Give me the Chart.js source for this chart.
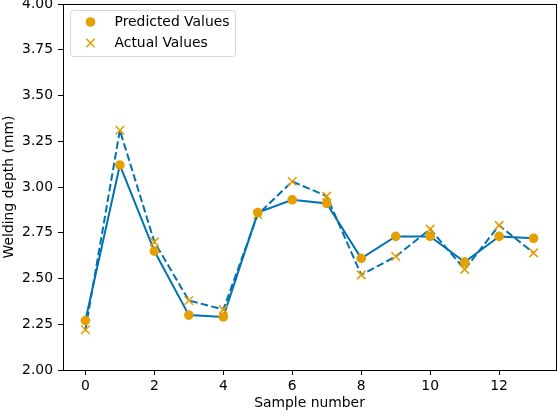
<!DOCTYPE html>
<html>
<head>
<meta charset="utf-8">
<script src="https://cdn.jsdelivr.net/npm/chart.js@4.4.1/dist/chart.umd.min.js"></script>
<style>
  html, body { margin: 0; padding: 0; background: #fff; }
  #wrap { width: 558px; height: 414px; }
</style>
</head>
<body>
<div id="wrap"><canvas id="chart" width="558" height="414"></canvas></div>
<script>
const sampleNumbers = [0, 1, 2, 3, 4, 5, 6, 7, 8, 9, 10, 11, 12, 13];
const predictedValues = [2.27, 3.12, 2.65, 2.30, 2.29, 2.86, 2.93, 2.91, 2.61, 2.73, 2.73, 2.59, 2.73, 2.72];
const actualValues = [2.22, 3.31, 2.70, 2.38, 2.33, 2.85, 3.03, 2.95, 2.52, 2.62, 2.77, 2.55, 2.79, 2.64];
const xTicks = [0, 2, 4, 6, 8, 10, 12];
const yTicks = [2.00, 2.25, 2.50, 2.75, 3.00, 3.25, 3.50, 3.75, 4.00];

const lineBlue = "#0072b2";
const markOrange = "#e69f00";
const font = "DejaVu Sans";
const fontSize = 13.9;

const toPoints = (vals) => sampleNumbers.map((x, i) => ({ x: x, y: vals[i] }));

// frame round the plot area, like matplotlib spines
const framePlugin = {
  id: "frame",
  afterDatasetsDraw(chart) {
    const a = chart.chartArea;
    const ctx = chart.ctx;
    ctx.save();
    ctx.strokeStyle = "#000";
    ctx.lineWidth = 1;
    ctx.strokeRect(Math.round(a.left) + 0.5, Math.round(a.top) + 0.5, Math.round(a.right - a.left), Math.round(a.bottom - a.top));
    ctx.restore();
  }
};

// legend box inside the plot, upper left
const legendPlugin = {
  id: "innerLegend",
  afterDraw(chart) {
    const ctx = chart.ctx;
    const a = chart.chartArea;
    const bx = a.left + 7.5, by = a.top + 6.5, bw = 165, bh = 46;
    ctx.save();
    ctx.beginPath();
    ctx.roundRect(bx, by, bw, bh, 3);
    ctx.fillStyle = "rgba(255,255,255,0.8)";
    ctx.fill();
    ctx.strokeStyle = "#d6d6d6";
    ctx.lineWidth = 1;
    ctx.stroke();
    const items = chart.data.datasets.filter(d => d.inLegend);
    items.forEach((d, i) => {
      const cy = by + 11.5 + i * 21;
      ctx.fillStyle = d.backgroundColor;
      ctx.strokeStyle = d.borderColor;
      ctx.lineWidth = d.pointBorderWidth || 1;
      Chart.helpers.drawPoint(ctx, { pointStyle: d.pointStyle, radius: d.pointRadius, borderWidth: d.pointBorderWidth, rotation: 0 }, bx + 20, cy);
      ctx.fillStyle = "#000";
      ctx.font = fontSize + "px '" + font + "'";
      ctx.textBaseline = "middle";
      ctx.textAlign = "left";
      ctx.fillText(d.label, bx + 44, cy);
    });
    ctx.restore();
  }
};

new Chart(document.getElementById("chart"), {
  type: "scatter",
  data: {
    datasets: [
      {
        label: "Predicted Values",
        inLegend: true,
        data: toPoints(predictedValues),
        pointStyle: "circle",
        pointRadius: 4.8,
        pointBorderWidth: 0,
        backgroundColor: markOrange,
        borderColor: markOrange,
        order: 1
      },
      {
        label: "Actual Values",
        inLegend: true,
        data: toPoints(actualValues),
        pointStyle: "crossRot",
        pointRadius: 6,
        pointBorderWidth: 1.6,
        backgroundColor: markOrange,
        borderColor: markOrange,
        order: 2
      },
      {
        label: "predicted line",
        data: toPoints(predictedValues),
        showLine: true,
        pointRadius: 0,
        borderColor: lineBlue,
        borderWidth: 2,
        order: 3
      },
      {
        label: "actual line",
        data: toPoints(actualValues),
        showLine: true,
        pointRadius: 0,
        borderColor: lineBlue,
        borderWidth: 2,
        borderDash: [7.5, 3.3],
        order: 4
      }
    ]
  },
  options: {
    responsive: false,
    animation: false,
    layout: { autoPadding: false, padding: { top: 4, right: 2, left: 0, bottom: 0 } },
    plugins: { legend: { display: false }, tooltip: { enabled: false } },
    scales: {
      x: {
        type: "linear",
        min: -0.65,
        max: 13.65,
        afterBuildTicks: (s) => { s.ticks = xTicks.map(v => ({ value: v })); },
        afterFit: (s) => { s.height = 44; s.paddingLeft = 0; s.paddingRight = 0; },
        border: { display: false },
        grid: { drawOnChartArea: false, tickLength: 5, tickColor: "#000" },
        ticks: { color: "#000", font: { family: font, size: fontSize }, padding: 3, maxRotation: 0 },
        title: { display: true, text: "Sample number", color: "#000", font: { family: font, size: fontSize }, padding: { top: 0, bottom: 2 } }
      },
      y: {
        min: 2,
        max: 4,
        afterBuildTicks: (s) => { s.ticks = yTicks.map(v => ({ value: v })); },
        afterFit: (s) => { s.width = 63; s.paddingTop = 0; s.paddingBottom = 0; },
        border: { display: false },
        grid: { drawOnChartArea: false, tickLength: 5, tickColor: "#000" },
        ticks: { color: "#000", font: { family: font, size: fontSize }, padding: 5, callback: (v) => Number(v).toFixed(2) },
        title: { display: true, text: "Welding depth (mm)", color: "#000", font: { family: font, size: fontSize }, padding: { top: 1, bottom: 0 } }
      }
    }
  },
  plugins: [framePlugin, legendPlugin]
});
</script>
</body>
</html>
